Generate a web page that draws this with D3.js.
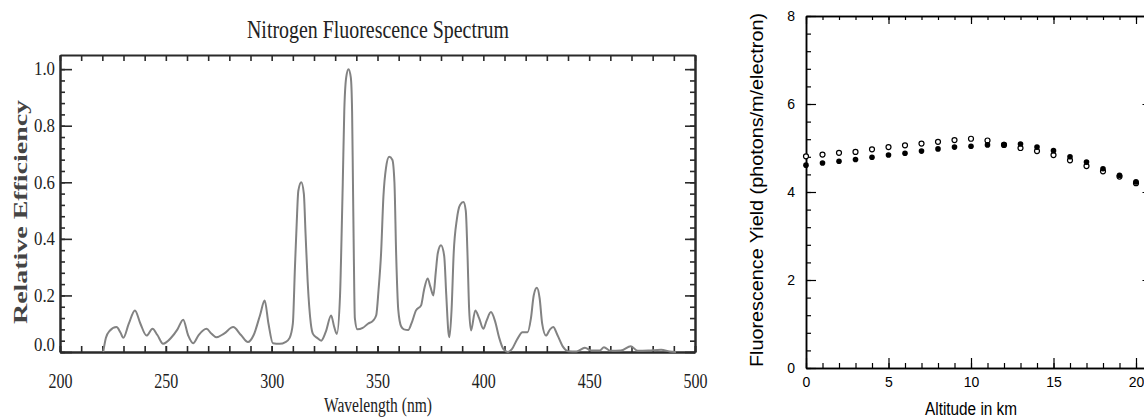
<!DOCTYPE html>
<html>
<head>
<meta charset="utf-8">
<script src="https://cdn.jsdelivr.net/npm/d3@7"></script>
<style>
  body { margin: 0; background: #fff; }
  svg { display: block; }
</style>
</head>
<body>
<div id="chart"></div>
<script>
// --- left panel: nitrogen fluorescence spectrum
const wavelengths = [
  220.4, 221.7, 223.5, 226.7, 228.5, 229.9, 232.5, 235.4, 238, 240.9, 243.7, 246, 248.7,
  252.7, 255.5, 258.2, 260.5, 262.9, 265.5, 269.2, 271.5, 273.9, 277.5, 281.8, 285.5,
  288.8, 291.5, 294.5, 296.7, 298.5, 300.6, 303.8, 306.5, 308.5, 310, 311, 311.8, 312.6,
  314, 315.2, 316, 317, 318.5, 319.5, 321.5, 323.4, 325.5, 328.1, 329.5, 330.8, 332.3,
  333, 333.6, 334.3, 335.2, 336.3, 337.4, 338, 338.4, 338.8, 339.3, 340.5, 343, 345.5,
  347.8, 349.4, 350.5, 351.7, 352.8, 354, 355.5, 357, 358, 358.8, 359.8, 361.2, 362.5,
  364.5, 366, 368.2, 370.6, 372, 373.7, 375, 376.4, 377.5, 378.5, 380, 381.5, 382.5,
  383.5, 384, 385, 386, 387.5, 389, 390.6, 391.7, 392.5, 393.3, 394.2, 396.2, 398, 400,
  401.5, 403.6, 405.5, 407.5, 409.5, 411.5, 413.5, 416, 418.5, 420.9, 422.5, 423.8,
  425.3, 426.6, 427.8, 429.6, 431.5, 433, 435, 437.5, 440, 444, 448, 451, 455, 457, 460,
  465, 469.7, 473, 478, 484, 488, 491
];
const efficiency = [
  0, 0.05, 0.075, 0.088, 0.07, 0.05, 0.1, 0.147, 0.1, 0.058, 0.082, 0.06, 0.029,
  0.052, 0.08, 0.114, 0.06, 0.031, 0.06, 0.082, 0.065, 0.052, 0.065, 0.088, 0.06,
  0.035, 0.06, 0.13, 0.182, 0.1, 0.031, 0.029, 0.035, 0.05, 0.1, 0.3, 0.45, 0.57,
  0.6, 0.56, 0.42, 0.25, 0.1, 0.064, 0.05, 0.04, 0.07, 0.129, 0.09, 0.064, 0.2,
  0.4, 0.6, 0.85, 0.97, 1.0, 0.97, 0.85, 0.6, 0.35, 0.12, 0.08, 0.085, 0.1,
  0.11, 0.13, 0.22, 0.35, 0.55, 0.65, 0.69, 0.68, 0.6, 0.35, 0.15, 0.09, 0.08,
  0.078, 0.1, 0.147, 0.165, 0.22, 0.26, 0.23, 0.2, 0.28, 0.35, 0.377, 0.34, 0.2,
  0.07, 0.052, 0.15, 0.35, 0.47, 0.52, 0.53, 0.5, 0.35, 0.15, 0.076, 0.147, 0.12, 0.082,
  0.11, 0.141, 0.11, 0.05, 0.01, 0, 0.01, 0.045, 0.07, 0.07, 0.12, 0.2,
  0.227, 0.19, 0.1, 0.058, 0.08, 0.088, 0.06, 0.02, 0.003, 0.002, 0.015, 0.005, 0.005, 0.017, 0.004,
  0.005, 0.02, 0.004, 0.005, 0.008, 0.002, 0
];
const waveTicks = [200, 250, 300, 350, 400, 450, 500];
const effTicks = [0.0, 0.2, 0.4, 0.6, 0.8, 1.0];

// --- right panel: fluorescence yield vs altitude
const altitudes = [0, 1, 2, 3, 4, 5, 6, 7, 8, 9, 10, 11, 12, 13, 14, 15, 16, 17, 18, 19, 20];
const yieldOpen = [4.81, 4.85, 4.89, 4.91, 4.97, 5.02, 5.06, 5.10, 5.14, 5.18, 5.21,
  5.17, 5.07, 5.00, 4.93, 4.84, 4.72, 4.59, 4.47, 4.35, 4.20];
const yieldFilled = [4.61, 4.66, 4.70, 4.74, 4.79, 4.84, 4.88, 4.93, 4.98, 5.02, 5.04,
  5.07, 5.08, 5.09, 5.02, 4.94, 4.80, 4.68, 4.53, 4.38, 4.23];
const altTicks = [0, 5, 10, 15, 20];
const yieldTicks = [0, 2, 4, 6, 8];

const svg = d3.select("#chart").append("svg")
  .attr("width", 1144)
  .attr("height", 420);

const serif = "'Liberation Serif', 'Times New Roman', serif";
const sans = "'Liberation Sans', Arial, Helvetica, sans-serif";

// helper: draw an axis, style its line and ticks
function drawAxis(g, axis, color, width) {
  g.call(axis);
  g.selectAll("path.domain").attr("stroke", color).attr("stroke-width", width);
  g.selectAll(".tick line").attr("stroke", color).attr("stroke-width", width * 0.8);
  return g;
}

// ================= left chart =================
const L = {left: 60, right: 695, top: 55, bottom: 352};
const x1 = d3.scaleLinear().domain([200, 500]).range([L.left, L.right]);
const y1 = d3.scaleLinear().domain([0, 1.05]).range([L.bottom, L.top]);
const frame1 = "#2a2a2a";

const left = svg.append("g");

// minor ticks first
drawAxis(left.append("g").attr("transform", `translate(0,${L.bottom})`),
  d3.axisBottom(x1).tickValues(d3.range(200, 501, 10)).tickSize(-6).tickSizeOuter(0).tickFormat(""), frame1, 2);
drawAxis(left.append("g").attr("transform", `translate(0,${L.top})`),
  d3.axisTop(x1).tickValues(d3.range(200, 501, 10)).tickSize(-6).tickSizeOuter(0).tickFormat(""), frame1, 2);
drawAxis(left.append("g").attr("transform", `translate(${L.left},0)`),
  d3.axisLeft(y1).tickValues(d3.range(0, 1.001, 0.04)).tickSize(-5).tickSizeOuter(0).tickFormat(""), frame1, 2);
drawAxis(left.append("g").attr("transform", `translate(${L.right},0)`),
  d3.axisRight(y1).tickValues(d3.range(0, 1.001, 0.04)).tickSize(-5).tickSizeOuter(0).tickFormat(""), frame1, 2);

// major ticks with labels
const xb1 = drawAxis(left.append("g").attr("transform", `translate(0,${L.bottom})`),
  d3.axisBottom(x1).tickValues(waveTicks).tickSize(-6).tickSizeOuter(0).tickPadding(21), frame1, 2);
xb1.selectAll("text")
  .attr("font-family", serif).attr("font-size", 21).attr("fill", "#222")
  .attr("textLength", 24).attr("lengthAdjust", "spacingAndGlyphs");

const yl1 = drawAxis(left.append("g").attr("transform", `translate(${L.left},0)`),
  d3.axisLeft(y1).tickValues(effTicks).tickSize(-12).tickSizeOuter(0).tickPadding(5)
    .tickFormat(d3.format(".1f")), frame1, 2);
yl1.selectAll("text")
  .attr("font-family", serif).attr("font-size", 18).attr("fill", "#222")
  .attr("textLength", 21).attr("lengthAdjust", "spacingAndGlyphs")
  .attr("dy", d => d === 0 ? "-0.1em" : "0.32em");

drawAxis(left.append("g").attr("transform", `translate(${L.right},0)`),
  d3.axisRight(y1).tickValues(effTicks).tickSize(-10).tickSizeOuter(0).tickFormat(""), frame1, 2);

// spectrum line
const spectrum = wavelengths.map((w, i) => [w, efficiency[i]]);
left.append("path")
  .datum(spectrum)
  .attr("fill", "none")
  .attr("stroke", "#828282")
  .attr("stroke-width", 2)
  .attr("stroke-linejoin", "round")
  .attr("d", d3.line().x(d => x1(d[0])).y(d => y1(d[1])).curve(d3.curveMonotoneX));

// title and axis labels
left.append("text")
  .attr("x", 378).attr("y", 38)
  .attr("text-anchor", "middle")
  .attr("font-family", serif).attr("font-size", 25).attr("fill", "#222")
  .attr("textLength", 262).attr("lengthAdjust", "spacingAndGlyphs")
  .text("Nitrogen Fluorescence Spectrum");

left.append("text")
  .attr("x", 378).attr("y", 412)
  .attr("text-anchor", "middle")
  .attr("font-family", serif).attr("font-size", 20).attr("fill", "#222")
  .attr("textLength", 108).attr("lengthAdjust", "spacingAndGlyphs")
  .text("Wavelength (nm)");

left.append("text")
  .attr("transform", "translate(27,212) rotate(-90)")
  .attr("text-anchor", "middle")
  .attr("font-family", serif).attr("font-size", 18).attr("font-weight", "bold")
  .attr("fill", "#444")
  .attr("textLength", 224).attr("lengthAdjust", "spacingAndGlyphs")
  .text("Relative Efficiency");

// ================= right chart =================
const R = {left: 806, top: 16, bottom: 368};
const x2 = d3.scaleLinear().domain([0, 21]).range([R.left, R.left + 21 * 16.5]);
const y2 = d3.scaleLinear().domain([0, 8]).range([R.bottom, R.top]);
const R_right = x2(21);

const right = svg.append("g");

drawAxis(right.append("g").attr("transform", `translate(0,${R.bottom})`),
  d3.axisBottom(x2).tickValues(d3.range(0, 22, 1)).tickSize(-5).tickSizeOuter(0).tickFormat(""), "#000", 1.5);
drawAxis(right.append("g").attr("transform", `translate(0,${R.top})`),
  d3.axisTop(x2).tickValues(d3.range(0, 22, 1)).tickSize(-4).tickSizeOuter(0).tickFormat(""), "#000", 1.5);
drawAxis(right.append("g").attr("transform", `translate(${R.left},0)`),
  d3.axisLeft(y2).tickValues(d3.range(0, 8.01, 0.4)).tickSize(-5).tickSizeOuter(0).tickFormat(""), "#000", 1.5);
drawAxis(right.append("g").attr("transform", `translate(${R_right},0)`),
  d3.axisRight(y2).tickValues(d3.range(0, 8.01, 0.4)).tickSize(-5).tickSizeOuter(0).tickFormat(""), "#000", 1.5);

const xb2 = drawAxis(right.append("g").attr("transform", `translate(0,${R.bottom})`),
  d3.axisBottom(x2).tickValues(altTicks).tickSize(-10).tickSizeOuter(0).tickPadding(9), "#000", 1.5);
xb2.selectAll("text").attr("font-family", sans).attr("font-size", 14).attr("fill", "#000");

drawAxis(right.append("g").attr("transform", `translate(0,${R.top})`),
  d3.axisTop(x2).tickValues(altTicks).tickSize(-8).tickSizeOuter(0).tickFormat(""), "#000", 1.5);

const yl2 = drawAxis(right.append("g").attr("transform", `translate(${R.left},0)`),
  d3.axisLeft(y2).tickValues(yieldTicks).tickSize(-10).tickSizeOuter(0).tickPadding(11), "#000", 1.5);
yl2.selectAll("text").attr("font-family", sans).attr("font-size", 14).attr("fill", "#000");

drawAxis(right.append("g").attr("transform", `translate(${R_right},0)`),
  d3.axisRight(y2).tickValues(yieldTicks).tickSize(-10).tickSizeOuter(0).tickFormat(""), "#000", 1.5);

// open circles, then filled dots on top
right.append("g").selectAll("circle")
  .data(altitudes.map((a, i) => [a, yieldOpen[i]]))
  .join("circle")
  .attr("cx", d => x2(d[0]))
  .attr("cy", d => y2(d[1]))
  .attr("r", 2.5)
  .attr("fill", "#fff")
  .attr("stroke", "#000")
  .attr("stroke-width", 1.2);

right.append("g").selectAll("circle")
  .data(altitudes.map((a, i) => [a, yieldFilled[i]]))
  .join("circle")
  .attr("cx", d => x2(d[0]))
  .attr("cy", d => y2(d[1]))
  .attr("r", 2.8)
  .attr("fill", "#000");

right.append("text")
  .attr("x", 971).attr("y", 415)
  .attr("text-anchor", "middle")
  .attr("font-family", sans).attr("font-size", 18).attr("fill", "#000")
  .attr("textLength", 92).attr("lengthAdjust", "spacingAndGlyphs")
  .text("Altitude in km");

right.append("text")
  .attr("transform", "translate(763,190) rotate(-90)")
  .attr("text-anchor", "middle")
  .attr("font-family", sans).attr("font-size", 18).attr("fill", "#000")
  .attr("textLength", 354).attr("lengthAdjust", "spacingAndGlyphs")
  .text("Fluorescence Yield (photons/m/electron)");
</script>
</body>
</html>
